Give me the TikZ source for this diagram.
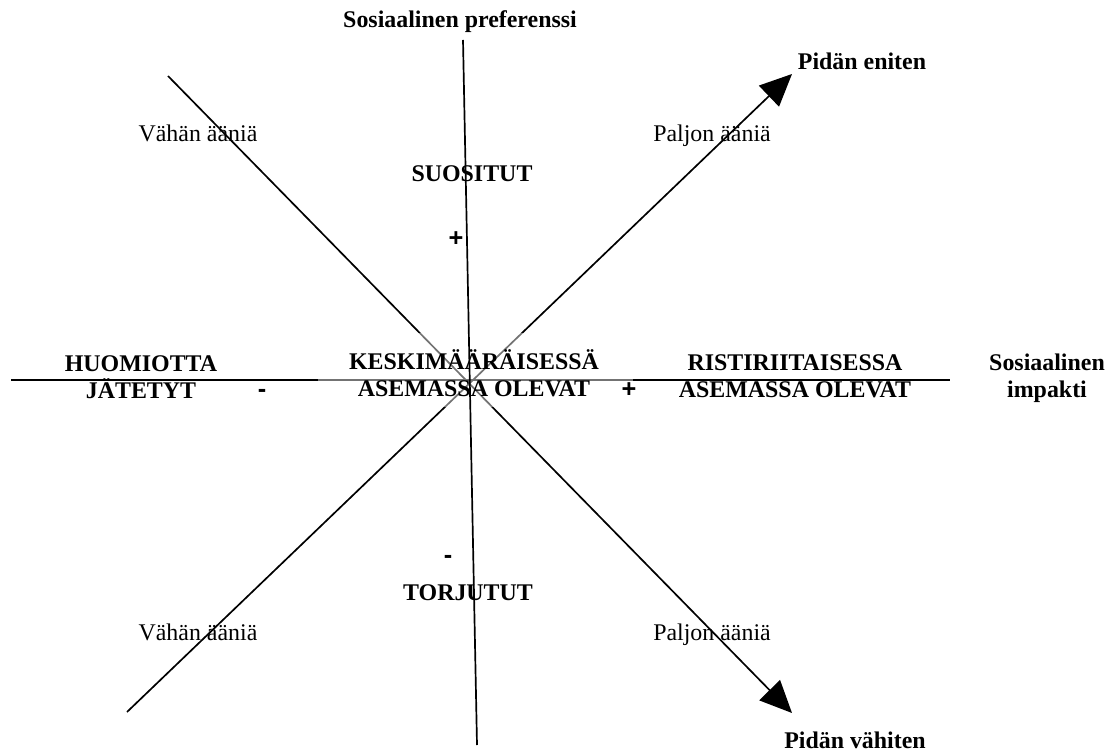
\documentclass[tikz,border=0pt]{standalone}
\usepackage{fontspec}
\setmainfont{Liberation Serif}
\newfontfamily\signfont{Liberation Sans}
\usetikzlibrary{arrows.meta}

\begin{document}
\begin{tikzpicture}[x=0.025cm, y=-0.025cm, >={Triangle[length=0.8cm, width=0.72cm]}, line width=1.2pt,
    every node/.style={font=\fontsize{17}{19.2}\selectfont, inner sep=0pt},
    heading/.style={font=\fontsize{17}{19.2}\selectfont\bfseries, align=center},
    votes/.style={anchor=base},
    sign/.style={font=\fontsize{18}{19.2}\selectfont\signfont\bfseries, anchor=base}]
            \useasboundingbox (0,0) rectangle (1109,753);

            % Axis end points
            \coordinate (impact-left) at (11,380);
            \coordinate (impact-right) at (950,380);
            \coordinate (pref-top) at (463,40);
            \coordinate (pref-bottom) at (477,745);
            \coordinate (few-top) at (168,76);
            \coordinate (few-bottom) at (127,712);
            \coordinate (most) at (792,74);
            \coordinate (least) at (792,713);

            % Horizontal axis and the two diagonals
            \draw (impact-left) -- (impact-right);
            \draw[->] (few-top) -- (least);
            \draw[->] (few-bottom) -- (most);

            % Faded middle behind the centre label
            \fill[white, opacity=0.45] (318,333) rectangle (633,407);

            % Vertical axis
            \draw (pref-top) -- (pref-bottom);

            % Axis titles
            \node[heading, anchor=base] (pref-label) at (460,28) {Sosiaalinen preferenssi};
            \node[heading] (impact-label) at (1047,378) {Sosiaalinen\\impakti};
            \node[heading, anchor=base] (most-label) at (862,70) {Pidän eniten};
            \node[heading, anchor=base] (least-label) at (855,748) {Pidän vähiten};

            % Groups
            \node[heading, anchor=base] (popular) at (472,182) {SUOSITUT};
            \node[heading, anchor=base] (rejected) at (468,600) {TORJUTUT};
            \node[heading] (neglected) at (141,377) {HUOMIOTTA\\JÄTETYT};
            \node[heading] (average) at (474,373) {KESKIMÄÄRÄISESSÄ\\ASEMASSA OLEVAT};
            \node[heading] (controversial) at (795,376) {RISTIRIITAISESSA\\ASEMASSA OLEVAT};

            % Votes
            \node[votes] (few-upper) at (198,142) {Vähän ääniä};
            \node[votes] (many-upper) at (712,142) {Paljon ääniä};
            \node[votes] (few-lower) at (198,640) {Vähän ääniä};
            \node[votes] (many-lower) at (712,640) {Paljon ääniä};

            % Signs
            \node[sign] (pref-plus) at (456,247) {+};
            \node[sign] (pref-minus) at (448,563) {-};
            \node[sign] (impact-minus) at (262,398) {-};
            \node[sign] (impact-plus) at (629,398) {+};

        \end{tikzpicture}
\end{document}
